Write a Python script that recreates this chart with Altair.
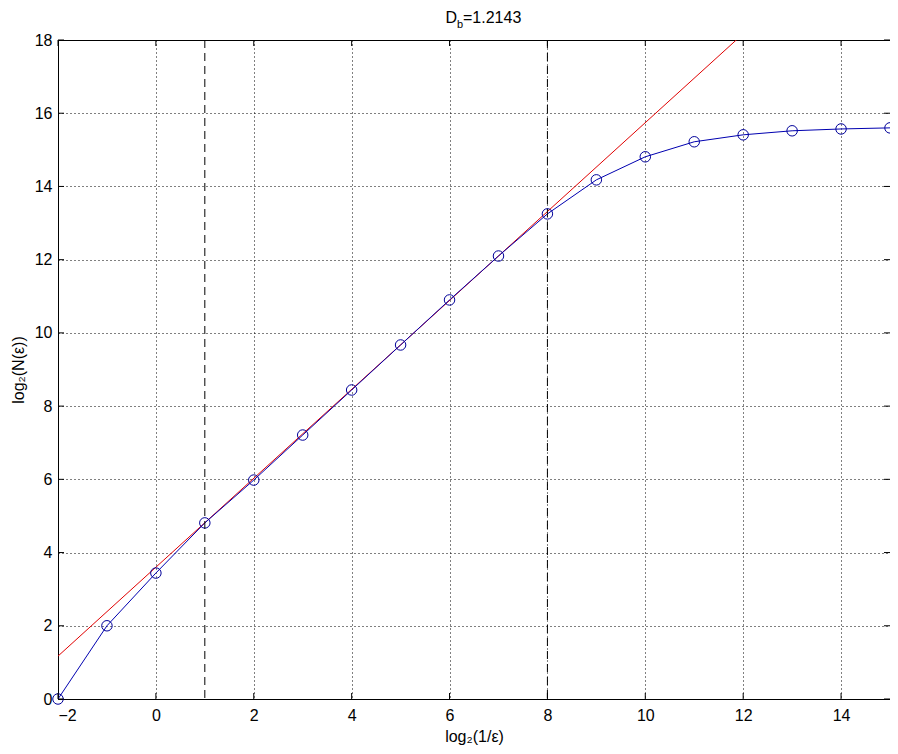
import altair as alt
import pandas as pd

# data
x_vals = [-2, -1, 0, 1, 2, 3, 4, 5, 6, 7, 8, 9, 10, 11, 12, 13, 14, 15]
y_vals = [0.0, 2.0, 3.44, 4.81, 5.98, 7.21, 8.44, 9.67, 10.9, 12.1, 13.25,
          14.18, 14.81, 15.22, 15.41, 15.52, 15.57, 15.6]
fit_slope = 1.2143
fit_intercept = 3.6
fit_x = [-2, 15]
fit_y = [fit_intercept + fit_slope * v for v in fit_x]
range_bounds = [1, 8]
x_ticks = [-2, 0, 2, 4, 6, 8, 10, 12, 14]
y_ticks = [0, 2, 4, 6, 8, 10, 12, 14, 16, 18]

W, H = 832, 659
FONT = "Liberation Sans"

df = pd.DataFrame({"x": x_vals, "y": y_vals})
fit_df = pd.DataFrame({"x": fit_x, "y": fit_y})
bounds_df = pd.DataFrame({"x": range_bounds})
xt_df = pd.DataFrame({"x": x_ticks})
yt_df = pd.DataFrame({"y": y_ticks})

xs = alt.Scale(domain=[-2, 15], nice=False, zero=False)
ys = alt.Scale(domain=[0, 18], nice=False, zero=False)

x_axis = alt.Axis(values=x_ticks, title="log₂(1/ε)", grid=True, gridDash=[1, 3],
                  gridColor="black", gridOpacity=1, ticks=False, labelPadding=8,
                  titlePadding=5)
y_axis = alt.Axis(values=y_ticks, title="log₂(N(ε))", grid=True, gridDash=[1, 3],
                  gridColor="black", gridOpacity=1, ticks=False, labelPadding=6,
                  titlePadding=8)

fit = alt.Chart(fit_df).mark_line(color="#e00000", strokeWidth=1, clip=True).encode(
    x=alt.X("x:Q", scale=xs, axis=x_axis),
    y=alt.Y("y:Q", scale=ys, axis=y_axis),
)

line = alt.Chart(df).mark_line(color="#0000b0", strokeWidth=1, clip=True).encode(
    x=alt.X("x:Q", scale=xs), y=alt.Y("y:Q", scale=ys)
)
pts = alt.Chart(df).mark_point(shape="circle", filled=False, color="#000099",
                               size=110, strokeWidth=1, opacity=1, clip=False).encode(
    x=alt.X("x:Q", scale=xs), y=alt.Y("y:Q", scale=ys)
)

bounds = alt.Chart(bounds_df).mark_rule(color="black", strokeDash=[8, 5], strokeWidth=1).encode(
    x=alt.X("x:Q", scale=xs)
)

tick_len = 6
xt_bottom = alt.Chart(xt_df).mark_rule(color="black").encode(
    x=alt.X("x:Q", scale=xs), y=alt.value(H), y2=alt.value(H - tick_len))
xt_top = alt.Chart(xt_df).mark_rule(color="black").encode(
    x=alt.X("x:Q", scale=xs), y=alt.value(0), y2=alt.value(tick_len))
yt_left = alt.Chart(yt_df).mark_rule(color="black").encode(
    y=alt.Y("y:Q", scale=ys), x=alt.value(0), x2=alt.value(tick_len))
yt_right = alt.Chart(yt_df).mark_rule(color="black").encode(
    y=alt.Y("y:Q", scale=ys), x=alt.value(W), x2=alt.value(W - tick_len))

cx = W / 2
t_main = alt.Chart(pd.DataFrame({"t": ["D"]})).mark_text(
    font=FONT, fontSize=16, align="right", baseline="alphabetic", color="black"
).encode(text="t:N", x=alt.value(cx - 17), y=alt.value(-17))
t_sub = alt.Chart(pd.DataFrame({"t": ["b"]})).mark_text(
    font=FONT, fontSize=11, align="left", baseline="alphabetic", color="black"
).encode(text="t:N", x=alt.value(cx - 17), y=alt.value(-12))
t_rest = alt.Chart(pd.DataFrame({"t": ["=1.2143"]})).mark_text(
    font=FONT, fontSize=16, align="left", baseline="alphabetic", color="black"
).encode(text="t:N", x=alt.value(cx - 11), y=alt.value(-17))

chart = alt.layer(
    fit, line, pts, bounds, xt_bottom, xt_top, yt_left, yt_right, t_main, t_sub, t_rest
).properties(
    width=W, height=H,
    background="white",
    autosize=alt.AutoSizeParams(type="none"),
    padding={"left": 50, "top": 32, "right": 0, "bottom": 47},
).configure_view(
    stroke="black", strokeWidth=1
).configure_axis(
    domainColor="black", labelColor="black", titleColor="black",
    labelFont=FONT, titleFont=FONT, labelFontSize=16, titleFontSize=16,
    titleFontWeight="normal",
)

chart.save("out.html", embed_options={"renderer": "svg", "actions": False})
